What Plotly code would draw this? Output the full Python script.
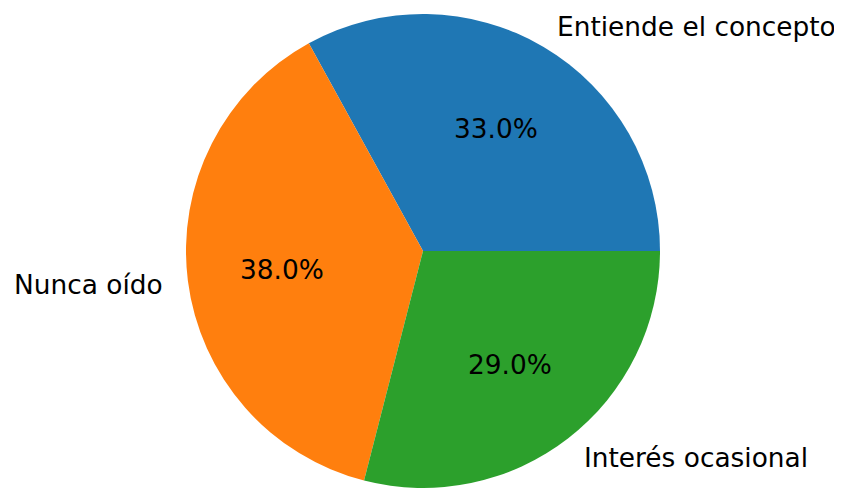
import math
import plotly.graph_objects as go

labels = ["Entiende el concepto", "Nunca oído", "Interés ocasional"]
values = [33, 38, 29]
colors = ["#1f77b4", "#ff7f0e", "#2ca02c"]

OFF = 8                      # default body margin of the html page
W, H = 842 - OFF, 488 - OFF  # figure size so it fits the window
CX, CY, R = 423 - OFF, 251.5 - OFF, 237.5
FONT = "DejaVu Sans"
FS = 26.4

total = sum(values)
first_deg = 360 * values[0] / total

fig = go.Figure(go.Pie(
    labels=labels, values=values, sort=False,
    direction="counterclockwise", rotation=90 - first_deg,
    marker=dict(colors=colors, line=dict(width=0)),
    textinfo="none", hoverinfo="label+percent", showlegend=False,
    domain=dict(x=[(CX - R) / W, (CX + R) / W],
                y=[max(0, 1 - (CY + R) / H), min(1, 1 - (CY - R) / H)]),
))

ann = []
start = 0.0
for lab, v in zip(labels, values):
    frac = v / total
    mid = (start + frac / 2) * 2 * math.pi
    start += frac
    c, s = math.cos(mid), math.sin(mid)
    lx = CX + 1.1 * R * c
    ly = CY - 1.1 * R * s
    ann.append(dict(x=lx / W, y=1 - ly / H, xref="paper", yref="paper",
                    text=lab, showarrow=False, borderpad=0,
                    xanchor="left" if c > 0 else "right", yanchor="middle",
                    font=dict(family=FONT, size=FS, color="#000000")))
    px = CX + 0.6 * R * c
    py = CY - 0.6 * R * s
    ann.append(dict(x=px / W, y=1 - py / H, xref="paper", yref="paper",
                    text=f"{frac*100:.1f}%", showarrow=False, borderpad=0,
                    xanchor="center", yanchor="middle",
                    font=dict(family=FONT, size=FS, color="#000000")))

fig.update_layout(
    width=W, height=H, margin=dict(l=0, r=0, t=0, b=0),
    paper_bgcolor="white", plot_bgcolor="white",
    annotations=ann,
)
fig.write_html("out.html")
